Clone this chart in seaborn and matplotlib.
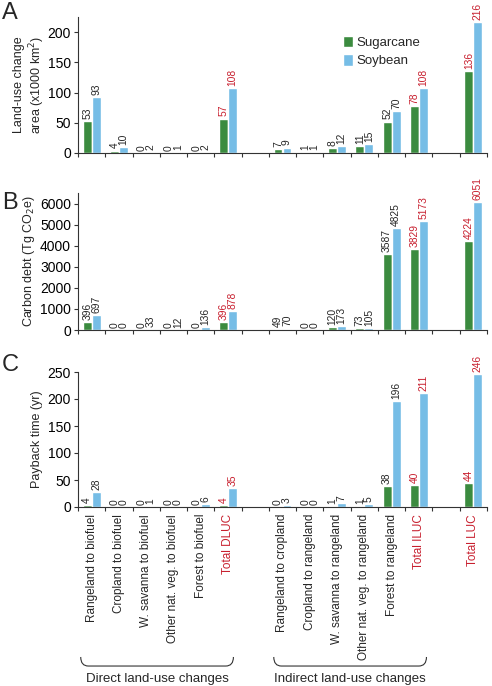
import numpy as np
import pandas as pd
import matplotlib.pyplot as plt
import matplotlib.transforms as mtransforms
from matplotlib.path import Path
from matplotlib.patches import PathPatch
import seaborn as sns

sns.set_theme(style="ticks")
plt.rcParams["font.family"] = ["Liberation Sans", "DejaVu Sans"]

# ---- data ----
categorias = [
    "Rangeland to biofuel", "Cropland to biofuel", "W. savanna to biofuel",
    "Other nat. veg. to biofuel", "Forest to biofuel", "Total DLUC", "",
    "Rangeland to cropland", "Cropland to rangeland", "W. savanna to rangeland",
    "Other nat. veg. to rangeland", "Forest to rangeland", "Total ILUC", "",
    "Total LUC",
]
totais = ["Total DLUC", "Total ILUC", "Total LUC"]
culturas = ["Sugarcane", "Soybean"]

area_cana = [53, 4, 0, 0, 0, 57, None, 7, 1, 8, 11, 52, 78, None, 136]
area_soja = [93, 10, 2, 1, 2, 108, None, 9, 1, 12, 15, 70, 108, None, 216]
carbono_cana = [396, 0, 0, 0, 0, 396, None, 49, 0, 120, 73, 3587, 3829, None, 4224]
carbono_soja = [697, 0, 33, 12, 136, 878, None, 70, 0, 173, 105, 4825, 5173, None, 6051]
payback_cana = [4, 0, 0, 0, 0, 4, None, 0, 0, 1, 1, 38, 40, None, 44]
payback_soja = [28, 0, 1, 0, 6, 35, None, 3, 0, 7, 5, 196, 211, None, 246]

cores = {"Sugarcane": "#3B8B3F", "Soybean": "#76BDE6"}
vermelho = "#C8202F"

# chaves únicas para as categorias (lacunas incluídas)
chaves = [c if c else f"gap{i}" for i, c in enumerate(categorias)]


def montar_df(cana, soja):
    linhas = []
    for chave, a, b in zip(chaves, cana, soja):
        if a is None:
            continue
        linhas.append({"cat": chave, "cultura": "Sugarcane", "valor": a})
        linhas.append({"cat": chave, "cultura": "Soybean", "valor": b})
    return pd.DataFrame(linhas)


fig = plt.figure(figsize=(4.92, 6.86), dpi=100)
left, width = 78 / 492, 409 / 492
rects = [
    (left, 1 - 153 / 686, width, 136 / 686),
    (left, 1 - 330 / 686, width, 137 / 686),
    (left, 1 - 507 / 686, width, 135 / 686),
]
# (cana, soja, ymax, yticks, rótulo, letra, y da letra em px, x do rótulo)
paineis = [
    (area_cana, area_soja, 225, np.arange(0, 201, 50),
     "Land-use change\narea (x1000 km$^2$)", "A", 13, -0.075),
    (carbono_cana, carbono_soja, 6500, np.arange(0, 6001, 1000),
     "Carbon debt (Tg CO$_2$e)", "B", 203, -0.100),
    (payback_cana, payback_soja, 250, np.arange(0, 251, 50),
     "Payback time (yr)", "C", 365, -0.085),
]

axes = []
for rect, (cana, soja, ymax, yticks, ylabel, letra, ypix, xlab) in zip(rects, paineis):
    ax = fig.add_axes(rect)
    df = montar_df(cana, soja)
    sns.barplot(data=df, x="cat", y="valor", hue="cultura", order=chaves,
                hue_order=culturas, palette=cores, saturation=1, width=0.66,
                ax=ax, legend=(letra == "A"))
    for cont in ax.containers:
        textos = ax.bar_label(cont, fmt="%d", rotation=90, padding=1.5, fontsize=7.4)
        for barra, t in zip(cont, textos):
            idx = int(round(barra.get_x() + barra.get_width() / 2))
            if categorias[idx] in totais:
                t.set_color(vermelho)
    ax.set_xlim(-0.5, 14.5)
    ax.set_ylim(0, ymax)
    ax.set_yticks(yticks)
    ax.set_ylabel(ylabel, fontsize=9)
    ax.yaxis.set_label_coords(xlab, 0.5)
    ax.set_xlabel("")
    ax.set_xticks(np.arange(-0.5, 15, 1))
    ax.set_xticklabels([])
    ax.tick_params(axis="both", length=3, width=0.8, colors="#333333",
                   labelcolor="black", labelsize=10, pad=2)
    for lado in ["top", "right"]:
        ax.spines[lado].set_visible(False)
    for lado in ["left", "bottom"]:
        ax.spines[lado].set_color("#333333")
        ax.spines[lado].set_linewidth(0.8)
    fig.text(2 / 492, 1 - ypix / 686, letra, fontsize=17, va="center", ha="left")
    axes.append(ax)

# legenda
leg = axes[0].legend(loc="upper left", bbox_to_anchor=(0.62, 0.95), frameon=False,
                     fontsize=9.5, handlelength=0.75, handleheight=0.95,
                     handletextpad=0.2, labelspacing=0.4)

# rótulos das categorias no painel C
ax = axes[2]
ax.set_xticks(np.arange(15), minor=True)
ax.set_xticklabels(categorias, minor=True, rotation=90, fontsize=8.5, va="top")
ax.tick_params(axis="x", which="minor", length=0, pad=5)
for lbl, cat in zip(ax.get_xticklabels(minor=True), categorias):
    if cat in totais:
        lbl.set_color(vermelho)

# chaves (braces) abaixo dos rótulos
trans = mtransforms.blended_transform_factory(ax.transData, ax.transAxes)


def chave(x0, x1, texto):
    yt, yb, d = -1.111, -1.178, 0.28
    verts = [(x0, yt), (x0, yb), (x0 + d, yb), (x1 - d, yb),
             (x1, yb), (x1, yt)]
    codes = [Path.MOVETO, Path.CURVE3, Path.CURVE3, Path.LINETO,
             Path.CURVE3, Path.CURVE3]
    ax.add_patch(PathPatch(Path(verts, codes), transform=trans, fill=False,
                           lw=0.8, edgecolor="#333333", clip_on=False))
    ax.text((x0 + x1) / 2, -1.274, texto, transform=trans, ha="center",
            va="center", fontsize=9.5)


chave(-0.4, 5.2, "Direct land-use changes")
chave(6.68, 12.28, "Indirect land-use changes")

plt.savefig("out.png", dpi=100)
plt.close()
